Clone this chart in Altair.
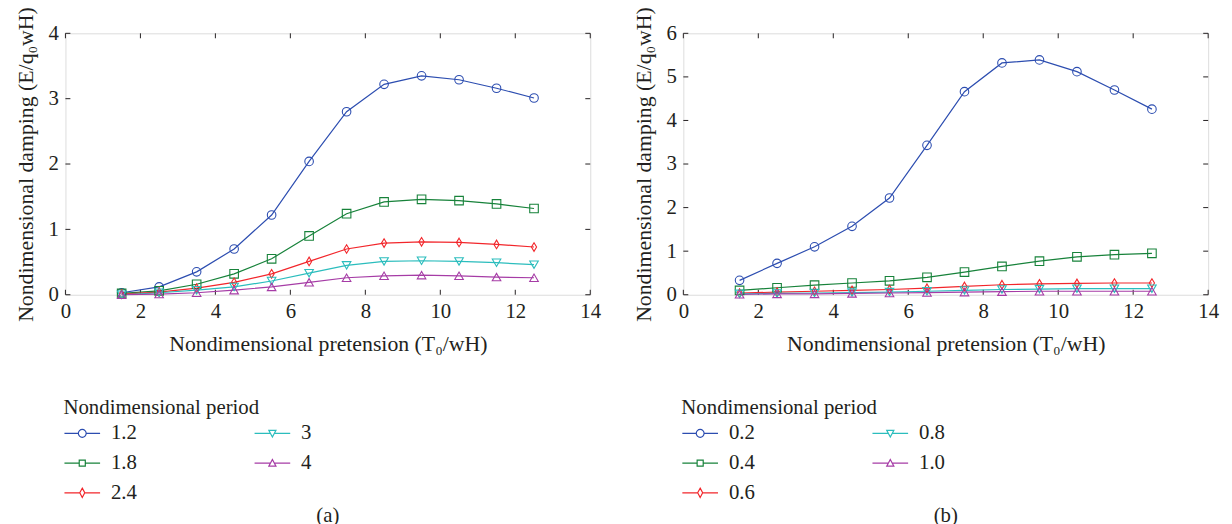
import altair as alt
import pandas as pd

# ---------------- data ----------------
T0 = [1.5, 2.5, 3.5, 4.5, 5.5, 6.5, 7.5, 8.5, 9.5, 10.5, 11.5, 12.5]

periods_a = ["1.2", "1.8", "2.4", "3", "4"]
a_12 = [0.03, 0.12, 0.35, 0.70, 1.22, 2.04, 2.80, 3.22, 3.35, 3.29, 3.16, 3.01]
a_18 = [0.02, 0.06, 0.16, 0.32, 0.55, 0.90, 1.24, 1.42, 1.46, 1.44, 1.39, 1.32]
a_24 = [0.01, 0.04, 0.10, 0.19, 0.32, 0.51, 0.70, 0.79, 0.81, 0.80, 0.77, 0.73]
a_3 = [0.00, 0.03, 0.07, 0.12, 0.21, 0.33, 0.45, 0.51, 0.52, 0.51, 0.49, 0.46]
a_4 = [0.00, 0.01, 0.03, 0.07, 0.12, 0.19, 0.26, 0.29, 0.30, 0.29, 0.27, 0.26]

periods_b = ["0.2", "0.4", "0.6", "0.8", "1.0"]
b_02 = [0.33, 0.72, 1.10, 1.57, 2.22, 3.43, 4.66, 5.32, 5.39, 5.12, 4.70, 4.26]
b_04 = [0.10, 0.16, 0.22, 0.27, 0.32, 0.40, 0.52, 0.65, 0.77, 0.87, 0.92, 0.95]
b_06 = [0.04, 0.06, 0.08, 0.10, 0.12, 0.15, 0.19, 0.23, 0.25, 0.26, 0.27, 0.27]
b_08 = [0.02, 0.03, 0.04, 0.05, 0.06, 0.08, 0.10, 0.12, 0.13, 0.14, 0.14, 0.14]
b_10 = [0.01, 0.02, 0.02, 0.03, 0.04, 0.05, 0.06, 0.07, 0.08, 0.08, 0.08, 0.08]

x_ticks = [0, 2, 4, 6, 8, 10, 12, 14]
y_ticks_a = [0, 1, 2, 3, 4]
y_ticks_b = [0, 1, 2, 3, 4, 5, 6]

x_title = "Nondimensional pretension (T\u2080/wH)"
y_title = "Nondimensional damping (E/q\u2080wH)"
legend_title = "Nondimensional period"

# ---------------- style ----------------
FONT = "'Liberation Serif', 'Times New Roman', serif"
FS = 21
FT = 22
TXT = "#231F20"
COLORS = ["#2C4DB0", "#17823A", "#F2262B", "#2BBDBD", "#A63CA6"]
W, H = 530, 264
TICK = 5

DIAMOND = "M0,-1L0.6,0L0,1L-0.6,0Z"
MARK_SHAPES = ["circle", "square", DIAMOND, "triangle-down", "triangle-up"]
LEG_SHAPES = [
    "M-1,0L-0.22,0M0.22,0L1,0M-0.22,0A0.22,0.22 0 1 0 0.22,0A0.22,0.22 0 1 0 -0.22,0",
    "M-1,0L-0.17,0M0.17,0L1,0M-0.17,-0.17L0.17,-0.17L0.17,0.17L-0.17,0.17Z",
    "M-1,0L-0.14,0M0.14,0L1,0M0,-0.26L0.14,0L0,0.26L-0.14,0Z",
    "M-1,0L-0.108,0M0.108,0L1,0M-0.2,-0.17L0.2,-0.17L0,0.2Z",
    "M-1,0L-0.108,0M0.108,0L1,0M-0.2,0.17L0.2,0.17L0,-0.2Z",
]


def panel(periods, series, yticks, caption):
    rows = []
    for p, vals in zip(periods, series):
        for t, v in zip(T0, vals):
            rows.append({"T0": t, "E": v, "period": p, "legkey": p})
    df = pd.DataFrame(rows)
    ymax = yticks[-1]

    xs = alt.Scale(domain=[0, 14], nice=False, zero=False)
    ys = alt.Scale(domain=[0, ymax], nice=False)
    cscale = alt.Scale(domain=periods, range=COLORS)
    sscale = alt.Scale(domain=periods, range=MARK_SHAPES)

    xaxis = alt.Axis(values=x_ticks, title=x_title, grid=False, domain=False, ticks=False,
                     labelPadding=6, titlePadding=12, labelFontSize=FS, titleFontSize=FT,
                     labelFont=FONT, titleFont=FONT, labelColor=TXT, titleColor=TXT,
                     titleFontWeight="normal", labelFlush=False, format="d")
    yaxis = alt.Axis(values=yticks, title=y_title, grid=False, domain=False, ticks=False,
                     labelPadding=7, titlePadding=11, labelFontSize=FS, titleFontSize=FT,
                     labelFont=FONT, titleFont=FONT, labelColor=TXT, titleColor=TXT,
                     titleFontWeight="normal", labelFlush=False, format="d")

    base = alt.Chart(df)
    lines = base.mark_line(strokeWidth=1.2).encode(
        x=alt.X("T0:Q", scale=xs, axis=xaxis),
        y=alt.Y("E:Q", scale=ys, axis=yaxis),
        color=alt.Color("period:N", scale=cscale, legend=None),
        detail="period:N",
    )
    pts = base.mark_point(filled=False, size=75, strokeWidth=1.1, opacity=1).encode(
        x=alt.X("T0:Q", scale=xs),
        y=alt.Y("E:Q", scale=ys),
        color=alt.Color("period:N", scale=cscale, legend=None),
        shape=alt.Shape("period:N", scale=sscale, legend=None),
    )
    legend = alt.Legend(
        title=legend_title, orient="none", legendX=-2, legendY=367, columns=2,
        columnPadding=117, rowPadding=9, clipHeight=16, symbolSize=1296,
        symbolStrokeWidth=1.2, symbolFillColor="transparent", labelOffset=10,
        titleFont=FONT, labelFont=FONT, titleFontSize=FS, labelFontSize=FS,
        titleFontWeight="normal", titleColor=TXT, labelColor=TXT, titlePadding=8,
        titleLimit=400, labelLimit=80, symbolOpacity=1,
    )
    dummy = base.transform_filter("false").mark_point(filled=False).encode(
        x=alt.X("T0:Q", scale=xs),
        y=alt.Y("E:Q", scale=ys),
        color=alt.Color("legkey:N", scale=alt.Scale(domain=periods, range=COLORS), legend=legend),
        shape=alt.Shape("legkey:N", scale=alt.Scale(domain=periods, range=LEG_SHAPES), legend=legend),
    )

    xt = pd.DataFrame({"v": x_ticks})
    yt = pd.DataFrame({"v": yticks})
    xb = alt.Chart(xt).mark_rule(color=TXT).encode(
        x=alt.X("v:Q", scale=xs), y=alt.value(H), y2=alt.value(H - TICK))
    xtop = alt.Chart(xt).mark_rule(color=TXT).encode(
        x=alt.X("v:Q", scale=xs), y=alt.value(0), y2=alt.value(TICK))
    yl = alt.Chart(yt).mark_rule(color=TXT).encode(
        y=alt.Y("v:Q", scale=ys), x=alt.value(0), x2=alt.value(TICK))
    yr = alt.Chart(yt).mark_rule(color=TXT).encode(
        y=alt.Y("v:Q", scale=ys), x=alt.value(W), x2=alt.value(W - TICK))

    return alt.layer(xb, xtop, yl, yr, lines, pts, dummy).resolve_scale(
        color="independent", shape="independent"
    ).properties(
        width=W, height=H,
        title=alt.TitleParams(caption, orient="bottom", anchor="middle", frame="group",
                              font=FONT, fontSize=FS, fontWeight="normal", color=TXT,
                              offset=2),
    )


left = panel(periods_a, [a_12, a_18, a_24, a_3, a_4], y_ticks_a, "(a)")
right = panel(periods_b, [b_02, b_04, b_06, b_08, b_10], y_ticks_b, "(b)")

chart = alt.hconcat(left, right, spacing=30).resolve_scale(
    color="independent", shape="independent"
).properties(
    padding={"left": 5, "top": -5, "right": 5, "bottom": 0}
).configure_view(stroke=TXT, strokeWidth=1).configure(background="white", font=FONT)

chart.save("out.html", embed_options={"renderer": "svg", "actions": False})
